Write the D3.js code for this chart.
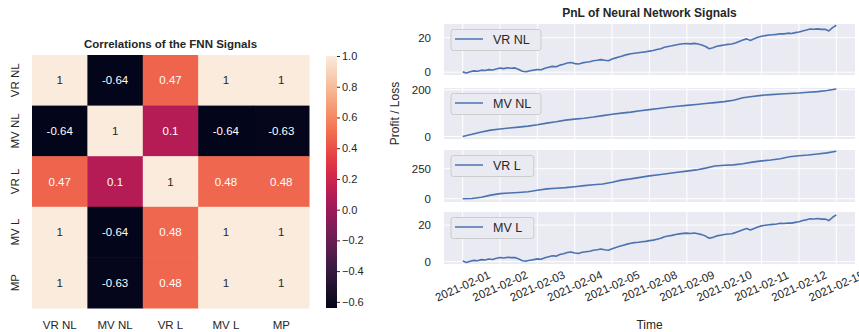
<!DOCTYPE html>
<html>
<head>
<meta charset="utf-8">
<script src="https://cdn.jsdelivr.net/npm/d3@7"></script>
<style>
  body { margin: 0; background: #fff; }
  text { font-family: "Liberation Sans", Arial, sans-serif; fill: #262626; }
</style>
</head>
<body>
<svg id="chart" width="859" height="332"></svg>
<script>
// ----------------------
// data
// ----------------------
const signalNames = ["VR NL", "MV NL", "VR L", "MV L", "MP"];
const corrMatrix = [
  [1, -0.64, 0.47, 1, 1],
  [-0.64, 1, 0.1, -0.64, -0.63],
  [0.47, 0.1, 1, 0.48, 0.48],
  [1, -0.64, 0.48, 1, 1],
  [1, -0.63, 0.48, 1, 1]
];
const colorTicks = [-0.6, -0.4, -0.2, 0.0, 0.2, 0.4, 0.6, 0.8, 1.0];

const dateLabels = ["2021-02-01", "2021-02-02", "2021-02-03", "2021-02-04", "2021-02-05",
  "2021-02-08", "2021-02-09", "2021-02-10", "2021-02-11", "2021-02-12", "2021-02-15"];

// cumulative pnl, sampled every 0.1 trading day
const pnlVrNl = [0.2, -0.4, 0.3, 0.8, 0.6, 1.2, 1.0, 1.5, 1.3, 1.9,
  2.4, 2.1, 2.6, 2.3, 2.5, 1.6, 0.6, 0.3, 0.9, 1.2,
  1.6, 1.4, 2.3, 2.9, 3.4, 3.2, 4.1, 4.6, 5.3, 5.6,
  5.0, 4.8, 5.4, 5.8, 6.1, 6.6, 6.9, 7.3, 6.9, 6.6,
  7.6, 8.3, 8.9, 9.6, 10.2, 10.7, 11.0, 11.3, 11.6, 11.8,
  12.2, 12.6, 13.1, 13.6, 14.5, 14.9, 15.3, 15.8, 16.2, 16.5,
  16.6, 16.4, 16.7, 16.3, 15.7, 14.9, 13.6, 14.2, 15.0, 15.4,
  15.8, 16.1, 16.3, 16.9, 17.8, 18.6, 19.3, 18.4, 19.4, 20.2,
  20.8, 21.2, 21.5, 21.7, 21.9, 22.3, 22.2, 22.6, 22.4, 22.9,
  23.3, 23.9, 24.4, 25.0, 24.9, 25.1, 24.8, 24.9, 23.9, 25.8,
  27.2];
const pnlMvL = [0.3, -0.5, 0.2, 0.7, 0.5, 1.1, 0.9, 1.4, 1.2, 1.8,
  2.3, 2.0, 2.4, 2.2, 2.3, 1.5, 0.5, 0.3, 0.8, 1.1,
  1.5, 1.3, 2.1, 2.7, 3.2, 3.0, 3.9, 4.3, 5.0, 5.3,
  4.7, 4.5, 5.1, 5.4, 5.7, 6.2, 6.5, 6.9, 6.5, 6.2,
  7.1, 7.8, 8.4, 9.0, 9.6, 10.1, 10.4, 10.6, 10.9, 11.1,
  11.5, 11.8, 12.3, 12.8, 13.6, 14.0, 14.4, 14.9, 15.2, 15.5,
  15.6, 15.4, 15.7, 15.3, 14.8, 14.0, 12.8, 13.3, 14.1, 14.5,
  14.9, 15.1, 15.3, 15.9, 16.7, 17.5, 18.1, 17.3, 18.2, 19.0,
  19.6, 19.9, 20.2, 20.4, 20.6, 21.0, 20.9, 21.2, 21.1, 21.5,
  21.9, 22.5, 22.9, 23.5, 23.4, 23.6, 23.3, 23.4, 22.5, 24.3,
  25.6];
// sampled every 0.25 trading day
const pnlMvNl = [0, 9, 19, 27, 32, 36, 40, 44, 50, 57,
  63, 70, 74, 78, 83, 89, 95, 100, 104, 110,
  115, 120, 125, 129, 133, 137, 141, 145, 149, 155,
  166, 171, 176, 179, 182, 184, 186, 189, 192, 197,
  203];
const pnlVrL = [0, 2, 12, 30, 42, 47, 52, 58, 70, 82,
  87, 92, 100, 109, 116, 122, 137, 155, 165, 178,
  190, 200, 210, 220, 230, 240, 255, 272, 279, 282,
  292, 305, 315, 322, 333, 350, 358, 364, 373, 382,
  396];

const panels = [
  { name: "VR NL", values: pnlVrNl, step: 0.1, domain: [-1.6, 27.9], ticks: [0, 20] },
  { name: "MV NL", values: pnlMvNl, step: 0.25, domain: [-11, 207.5], ticks: [0, 200] },
  { name: "VR L", values: pnlVrL, step: 0.25, domain: [-27.5, 406], ticks: [0, 250] },
  { name: "MV L", values: pnlMvL, step: 0.1, domain: [-1.3, 27.2], ticks: [0, 20] }
];

// ----------------------
// svg
// ----------------------
const svg = d3.select("#chart");

// ----------------------
// heatmap
// ----------------------
const heat = { left: 32, top: 55, width: 277, height: 253 };
const rocketStops = ["#03051a", "#35193e", "#701f57", "#ad1759", "#e13342", "#f37651", "#f6b48f", "#faebdd"];
const rocket = d3.piecewise(d3.interpolateRgb, rocketStops);
const colorScale = d3.scaleSequential(rocket).domain([-0.64, 1]);

const hx = d3.scaleBand().domain(signalNames).range([heat.left, heat.left + heat.width]);
const hy = d3.scaleBand().domain(signalNames).range([heat.top, heat.top + heat.height]);

const cells = [];
corrMatrix.forEach((row, i) => row.forEach((v, j) => cells.push({ r: signalNames[i], c: signalNames[j], v })));

function luminance(col) {
  const c = d3.rgb(col);
  const f = x => { x /= 255; return x <= 0.03928 ? x / 12.92 : Math.pow((x + 0.055) / 1.055, 2.4); };
  return 0.2126 * f(c.r) + 0.7152 * f(c.g) + 0.0722 * f(c.b);
}

svg.append("g").selectAll("rect")
  .data(cells)
  .join("rect")
  .attr("x", d => hx(d.c))
  .attr("y", d => hy(d.r))
  .attr("width", hx.bandwidth() + 0.5)
  .attr("height", hy.bandwidth() + 0.5)
  .attr("fill", d => colorScale(d.v));

svg.append("g").selectAll("text")
  .data(cells)
  .join("text")
  .attr("x", d => hx(d.c) + hx.bandwidth() / 2)
  .attr("y", d => hy(d.r) + hy.bandwidth() / 2)
  .attr("dy", "0.35em")
  .attr("text-anchor", "middle")
  .style("font-size", "11.5px")
  .style("fill", d => luminance(colorScale(d.v)) > 0.408 ? "#262626" : "#ffffff")
  .text(d => String(d.v));

// column labels
svg.append("g").selectAll("text")
  .data(signalNames)
  .join("text")
  .attr("x", d => hx(d) + hx.bandwidth() / 2)
  .attr("y", 329)
  .attr("text-anchor", "middle")
  .style("font-size", "11.5px")
  .text(d => d);

// row labels
svg.append("g").selectAll("text")
  .data(signalNames)
  .join("text")
  .attr("transform", d => `translate(19,${hy(d) + hy.bandwidth() / 2}) rotate(-90)`)
  .attr("text-anchor", "middle")
  .style("font-size", "11.5px")
  .text(d => d);

svg.append("text")
  .attr("x", heat.left + heat.width / 2)
  .attr("y", 48)
  .attr("text-anchor", "middle")
  .style("font-size", "11.5px")
  .style("font-weight", "bold")
  .text("Correlations of the FNN Signals");

// colorbar
const cbar = { x: 326, width: 11, top: 56, bottom: 308 };
const cy = d3.scaleLinear().domain([-0.64, 1]).range([cbar.bottom, cbar.top]);
const grad = svg.append("defs").append("linearGradient")
  .attr("id", "rocketGrad")
  .attr("x1", 0).attr("y1", 1).attr("x2", 0).attr("y2", 0);
grad.selectAll("stop")
  .data(d3.range(0, 1.0001, 0.05))
  .join("stop")
  .attr("offset", d => d)
  .attr("stop-color", d => rocket(d));
svg.append("rect")
  .attr("x", cbar.x)
  .attr("y", cbar.top)
  .attr("width", cbar.width)
  .attr("height", cbar.bottom - cbar.top)
  .attr("fill", "url(#rocketGrad)");

const cAxis = svg.append("g")
  .attr("transform", `translate(${cbar.x + cbar.width},0)`)
  .call(d3.axisRight(cy).tickValues(colorTicks).tickSize(3).tickPadding(2).tickFormat(d3.format(".1f")));
cAxis.select(".domain").remove();
cAxis.selectAll("line").attr("stroke", "#262626");
cAxis.selectAll("text").style("font-size", "11px").style("fill", "#262626");

// ----------------------
// pnl panels
// ----------------------
const plot = { left: 444, right: 855 };
const panelBounds = [[24, 75], [88, 139], [150, 202], [212, 264]];

const px = d3.scaleLinear().domain([-0.5, 10.5]).range([plot.left, plot.right]);
const xTicks = d3.range(dateLabels.length);

panels.forEach((p, k) => {
  const [top, bottom] = panelBounds[k];
  const py = d3.scaleLinear().domain(p.domain).range([bottom, top]);
  const g = svg.append("g");

  g.append("rect")
    .attr("x", plot.left).attr("y", top)
    .attr("width", plot.right - plot.left).attr("height", bottom - top)
    .attr("fill", "#eaeaf2");

  g.append("g").selectAll("line")
    .data(xTicks)
    .join("line")
    .attr("x1", d => px(d)).attr("x2", d => px(d))
    .attr("y1", top).attr("y2", bottom)
    .attr("stroke", "#fff").attr("stroke-width", 1);

  g.append("g").selectAll("line")
    .data(p.ticks)
    .join("line")
    .attr("x1", plot.left).attr("x2", plot.right)
    .attr("y1", d => py(d)).attr("y2", d => py(d))
    .attr("stroke", "#fff").attr("stroke-width", 1);

  const yAxis = g.append("g")
    .attr("transform", `translate(${plot.left},0)`)
    .call(d3.axisLeft(py).tickValues(p.ticks).tickSize(0).tickPadding(13).tickFormat(d3.format("d")));
  yAxis.select(".domain").remove();
  yAxis.selectAll("text").style("font-size", "11.5px").style("fill", "#262626");

  const series = p.values.map((v, i) => ({ day: i * p.step, value: v }));
  g.append("path")
    .datum(series)
    .attr("fill", "none")
    .attr("stroke", "#4c72b0")
    .attr("stroke-width", 1.6)
    .attr("stroke-linejoin", "round")
    .attr("d", d3.line().x(d => px(d.day)).y(d => py(d.value)));

  // legend
  const lg = g.append("g").attr("transform", `translate(${plot.left + 7},${top + 5.5})`);
  const textW = p.name.length * 7.2 + 4;
  lg.append("rect")
    .attr("width", 50 + textW).attr("height", 21)
    .attr("rx", 2.5)
    .attr("fill", "#eaeaf2")
    .attr("stroke", "#cccccc");
  lg.append("line")
    .attr("x1", 4).attr("x2", 32).attr("y1", 9.5).attr("y2", 9.5)
    .attr("stroke", "#4c72b0").attr("stroke-width", 1.5);
  lg.append("text")
    .attr("x", 42).attr("y", 10.5)
    .attr("dy", "0.35em")
    .style("font-size", "12.5px")
    .text(p.name);
});

// x axis labels under the last panel (the last one runs off the right edge, as in the source)
svg.append("g").selectAll("text")
  .data(xTicks)
  .join("text")
  .attr("transform", d => `translate(${px(d)},${286}) rotate(-24)`)
  .attr("text-anchor", "middle")
  .attr("dy", "0.35em")
  .style("font-size", "11.5px")
  .text(d => dateLabels[d]);

svg.append("text")
  .attr("x", (plot.left + plot.right) / 2)
  .attr("y", 329)
  .attr("text-anchor", "middle")
  .style("font-size", "12px")
  .text("Time");

svg.append("text")
  .attr("transform", `translate(399,${(panelBounds[1][0] + panelBounds[1][1]) / 2}) rotate(-90)`)
  .attr("text-anchor", "middle")
  .style("font-size", "12px")
  .text("Profit / Loss");

svg.append("text")
  .attr("x", (plot.left + plot.right) / 2)
  .attr("y", 17)
  .attr("text-anchor", "middle")
  .style("font-size", "12px")
  .style("font-weight", "bold")
  .text("PnL of Neural Network Signals");
</script>
</body>
</html>
